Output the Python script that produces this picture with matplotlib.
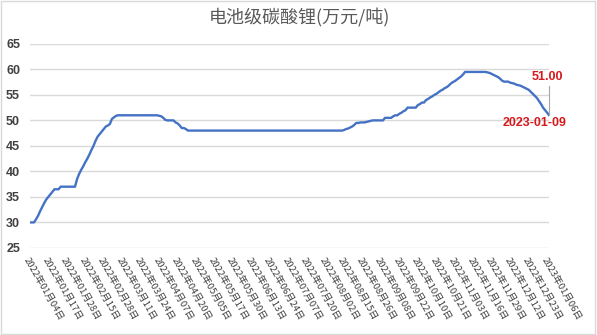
import matplotlib
matplotlib.use('Agg')
import matplotlib.pyplot as plt
from matplotlib.patches import Rectangle

# 电池级碳酸锂 日度价格 (万元/吨), 2022-01-04 ~ 2023-01-09, 按交易日排列
prices = [
    30.0, 30.0, 30.0, 30.6, 31.3, 32.2, 33.0, 33.8, 34.5, 35.0,
    35.5, 36.0, 36.5, 36.5, 36.5, 37.0, 37.0, 37.0, 37.0, 37.0,
    37.0, 37.0, 37.0, 38.5, 39.5, 40.3, 41.0, 41.8, 42.5, 43.3,
    44.2, 45.0, 46.0, 46.8, 47.3, 47.8, 48.3, 48.8, 49.0, 49.3,
    50.3, 50.6, 50.9, 51.0, 51.0, 51.0, 51.0, 51.0, 51.0, 51.0,
    51.0, 51.0, 51.0, 51.0, 51.0, 51.0, 51.0, 51.0, 51.0, 51.0,
    51.0, 51.0, 51.0, 50.9, 50.8, 50.5, 50.1, 50.0, 50.0, 50.0,
    50.0, 49.6, 49.4, 49.0, 48.5, 48.5, 48.3, 48.0, 48.0, 48.0,
    48.0, 48.0, 48.0, 48.0, 48.0, 48.0, 48.0, 48.0, 48.0, 48.0,
    48.0, 48.0, 48.0, 48.0, 48.0, 48.0, 48.0, 48.0, 48.0, 48.0,
    48.0, 48.0, 48.0, 48.0, 48.0, 48.0, 48.0, 48.0, 48.0, 48.0,
    48.0, 48.0, 48.0, 48.0, 48.0, 48.0, 48.0, 48.0, 48.0, 48.0,
    48.0, 48.0, 48.0, 48.0, 48.0, 48.0, 48.0, 48.0, 48.0, 48.0,
    48.0, 48.0, 48.0, 48.0, 48.0, 48.0, 48.0, 48.0, 48.0, 48.0,
    48.0, 48.0, 48.0, 48.0, 48.0, 48.0, 48.0, 48.0, 48.0, 48.0,
    48.0, 48.0, 48.0, 48.1, 48.3, 48.4, 48.6, 48.8, 49.1, 49.5,
    49.5, 49.6, 49.6, 49.6, 49.7, 49.8, 49.9, 50.0, 50.0, 50.0,
    50.0, 50.0, 50.0, 50.5, 50.5, 50.5, 50.5, 50.8, 51.0, 51.0,
    51.3, 51.5, 51.8, 52.0, 52.5, 52.5, 52.5, 52.5, 52.5, 53.0,
    53.2, 53.5, 53.5, 54.0, 54.2, 54.5, 54.7, 55.0, 55.2, 55.5,
    55.8, 56.0, 56.3, 56.5, 56.8, 57.2, 57.5, 57.7, 58.0, 58.3,
    58.6, 59.0, 59.5, 59.5, 59.5, 59.5, 59.5, 59.5, 59.5, 59.5,
    59.5, 59.5, 59.5, 59.4, 59.3, 59.1, 58.9, 58.7, 58.5, 58.2,
    57.8, 57.6, 57.6, 57.6, 57.4, 57.3, 57.2, 57.0, 56.9, 56.8,
    56.6, 56.4, 56.2, 56.0, 55.6, 55.2, 54.8, 54.4, 53.8, 53.2,
    52.5, 52.0, 51.5, 51.0,
]

# x轴标签 (每9个交易日一个)
tick_labels = [
    '2022年01月04日', '2022年01月17日', '2022年01月28日', '2022年02月15日',
    '2022年02月28日', '2022年03月11日', '2022年03月24日', '2022年04月07日',
    '2022年04月20日', '2022年05月05日', '2022年05月17日', '2022年05月30日',
    '2022年06月13日', '2022年06月24日', '2022年07月07日', '2022年07月20日',
    '2022年08月02日', '2022年08月15日', '2022年08月26日', '2022年09月08日',
    '2022年09月22日', '2022年10月10日', '2022年10月21日', '2022年11月03日',
    '2022年11月16日', '2022年11月29日', '2022年12月12日', '2022年12月23日',
    '2023年01月06日',
]
tick_step = 9
last_date = '2023-01-09'

cor_linha = '#4472C4'
cor_texto = '#595959'
cor_grade = '#D9D9D9'
cor_vermelho = '#D7191C'

fig = plt.figure(figsize=(5.97, 3.35), dpi=100)
ax = fig.add_axes([0.050, 0.26, 0.870, 0.609])

x = list(range(len(prices)))
ax.plot(x, prices, color=cor_linha, linewidth=1.7)

ax.set_xlim(0, len(prices) - 1)
ax.set_ylim(25, 65)
ax.set_yticks(range(25, 66, 5))
ax.yaxis.grid(True, color=cor_grade, linewidth=1)
ax.set_axisbelow(True)
for s in ax.spines.values():
    s.set_visible(False)

ax.tick_params(axis='y', length=0, pad=7, labelcolor='#404040')
for lb in ax.get_yticklabels():
    lb.set_fontfamily(['Liberation Sans', 'DejaVu Sans'])
    lb.set_fontweight('bold')
    lb.set_fontsize(9)

ax.set_xticks([i * tick_step for i in range(len(tick_labels))])
ax.set_xticklabels(tick_labels, rotation=-60, ha='left', va='top',
                   rotation_mode='anchor', fontsize=6.8, color='#404040',
                   family=['Noto Sans CJK SC', 'DejaVu Sans'])
ax.tick_params(axis='x', length=0, pad=6)

# 标题
fig.text(0.501, 0.945, '电池级碳酸锂(万元/吨)', ha='center', va='center',
         fontsize=13, color=cor_texto, family=['Noto Sans CJK SC', 'DejaVu Sans'])

# 末值标注
xe = len(prices) - 1
ye = prices[-1]
ax.plot([xe, xe], [ye, ye + 5.8], color='#A6A6A6', linewidth=0.8, clip_on=False, zorder=3)
ax.text(xe - 1, ye + 7.5, f'{ye:.2f}', ha='center', va='center', color=cor_vermelho,
        fontsize=9, fontweight='bold', family=['Liberation Sans', 'DejaVu Sans'])
ax.text(xe - 7, ye - 1.6, last_date, ha='center', va='center', color=cor_vermelho,
        fontsize=9, fontweight='bold', family=['Liberation Sans', 'DejaVu Sans'])

# borda do gráfico
fig.patches.append(Rectangle((0.002, 0.004), 0.995, 0.992, transform=fig.transFigure,
                             fill=False, edgecolor='#D9D9D9', linewidth=1))

fig.savefig('out.png', dpi=100)
